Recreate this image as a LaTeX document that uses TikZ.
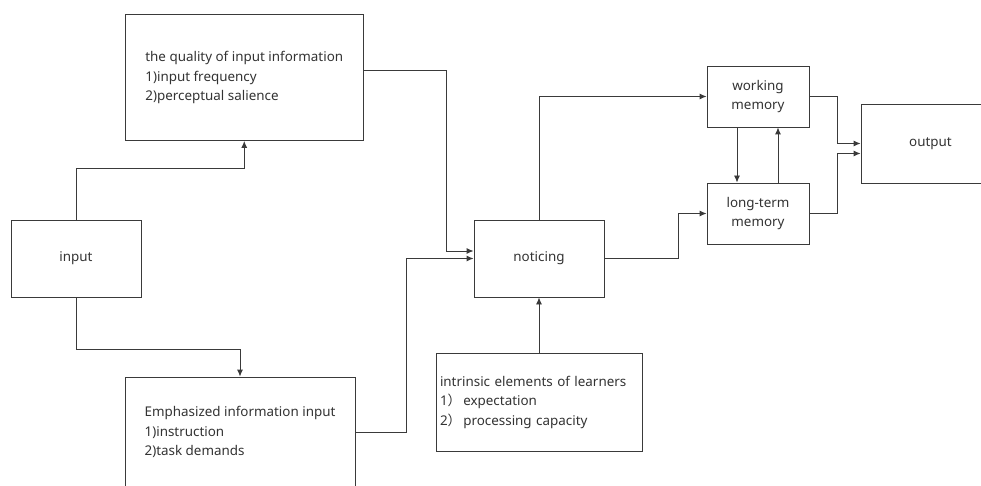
\documentclass[tikz,border=0pt]{standalone}
\usepackage{fontspec}
\setmainfont{Noto Sans}
\newfontfamily\cjk{Noto Sans CJK SC}
\usetikzlibrary{arrows.meta,calc}
\definecolor{linec}{HTML}{3A3A3A}
\definecolor{textc}{HTML}{333333}
\begin{document}
\begin{tikzpicture}[x=1pt,y=-1pt,
  box/.style={draw=linec, line width=0.9pt, rectangle, inner sep=0pt, text=textc},
  conn/.style={draw=linec, line width=0.9pt, -{Latex[length=7pt,width=6pt]}},
  font=\fontsize{13.4}{19.5}\selectfont]
\useasboundingbox (0,0) rectangle (981,486);
\clip (0,0) rectangle (981,486);
\fill[white] (0,0) rectangle (981,486);
\node[box, minimum width=237.5, minimum height=126, align=left] (qual) at (244.25,77.5)
  {the quality of input information\\1)input frequency\\2)perceptual salience};
\node[box, minimum width=130, minimum height=77] (input) at (76,258.5) {input};
\node[box, minimum width=230, minimum height=110, align=left] (emph) at (240,432)
  {Emphasized information input\\1)instruction\\2)task demands};
\node[box, minimum width=130, minimum height=77] (notice) at (539,258.5) {noticing};
\node[box, minimum width=206, minimum height=98, align=left, text width=198pt, inner xsep=4pt] (intr) at (539,402)
  {intrinsic elements of learners\\1{\cjk ）}\,expectation\\2{\cjk ）}\,processing capacity};
\node[box, minimum width=102, minimum height=61, align=center] (wm) at (758,96.5) {working\\memory};
\node[box, minimum width=102, minimum height=61, align=center] (lt) at (758,213.5) {long-term\\memory};
\node[box, minimum width=139, minimum height=79] (out) at (930.5,143.5) {output};
\draw[conn] (input.north) -- ++(0,-51) -| (qual.south);
\draw[conn] (input.south) -- ++(0,52) -| (emph.north);
\draw[conn] ([yshift=7.5pt]qual.east) -- ++(83,0) |- ([yshift=7.5pt]notice.west);
\draw[conn] (emph.east) -- ++(51,0) |- (notice.west);
\draw[conn] (intr.north) -- (notice.south);
\draw[conn] (notice.north) |- (wm.west);
\draw[conn] (notice.east) -- ++(74,0) |- (lt.west);
\draw[conn] ([xshift=-21pt]wm.south) -- ([xshift=-21pt]lt.north);
\draw[conn] ([xshift=20pt]lt.north) -- ([xshift=20pt]wm.south);
\draw[conn] (wm.east) -- ++(28,0) |- (out.west);
\draw[conn] (lt.east) -- ++(28,0) |- ([yshift=-10pt]out.west);
\end{tikzpicture}
\end{document}
